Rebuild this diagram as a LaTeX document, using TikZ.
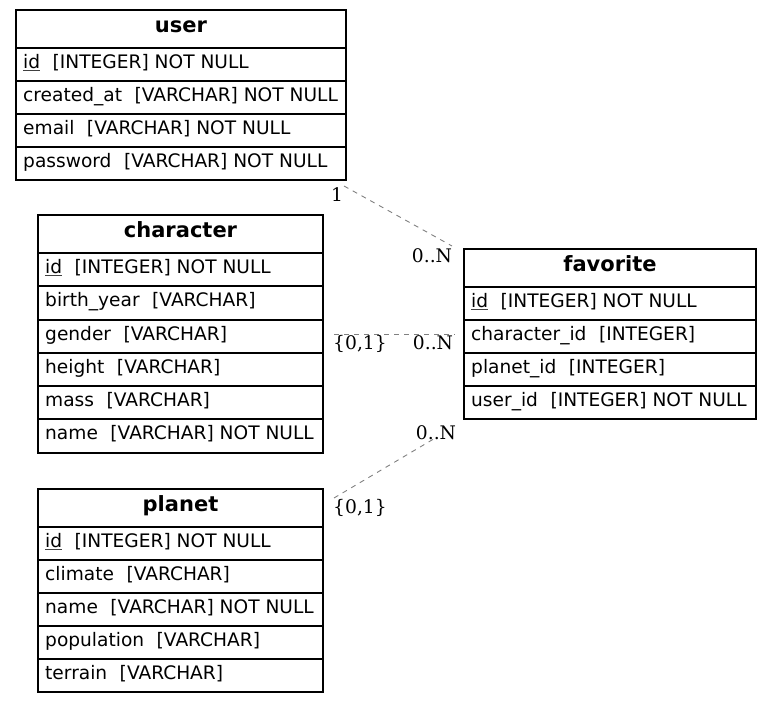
\documentclass[tikz,border=0pt]{standalone}
\usepackage{fontspec}
\setmainfont{DejaVu Sans}
\newfontfamily\lblfont{DejaVu Serif}
\usetikzlibrary{calc}
\begin{document}
\begin{tikzpicture}[x=1pt,y=-1pt,
  tbox/.style={draw=black, line width=1.1pt, anchor=north west, inner sep=0pt, outer sep=0pt},
  htext/.style={anchor=base, inner sep=0pt, font=\fontsize{21}{25}\selectfont\bfseries},
  rtext/.style={anchor=base west, inner sep=0pt, font=\fontsize{18.6}{22}\selectfont},
  rel/.style={draw=gray, line width=0.9pt, dash pattern=on 5pt off 5pt},
  card/.style={anchor=base, inner sep=0pt, font=\lblfont\fontsize{18.7}{22}\selectfont}]
\useasboundingbox (0,0) rectangle (772,703);
\newcommand{\gapsp}{\hspace{12.5pt}}
\newcommand{\pkey}[1]{\setbox0\hbox{#1}\rlap{\textcolor{black!75}{\rule[-2.6pt]{\wd0}{0.8pt}}}#1}
% #1 name, #2 x, #3 y, #4 width, #5 height, #6 text
\newcommand{\ehdr}[6]{%
  \node[tbox, minimum width=#4pt, minimum height=#5pt] (#1) at (#2,#3) {};
  \node[htext] (#1-t) at ($(#1.north)+(0,22.5)$) {#6};}
\newcommand{\erow}[6]{%
  \node[tbox, minimum width=#4pt, minimum height=#5pt] (#1) at (#2,#3) {};
  \node[rtext] (#1-t) at ($(#1.north west)+(7,20.3)$) {#6};}
% user
\ehdr{user-h}{16}{10}{330}{38}{user}
\erow{user-r1}{16}{48}{330}{33}{\pkey{id}\gapsp[INTEGER] NOT NULL}
\erow{user-r2}{16}{81}{330}{33}{created\_at\gapsp[VARCHAR] NOT NULL}
\erow{user-r3}{16}{114}{330}{33}{email\gapsp[VARCHAR] NOT NULL}
\erow{user-r4}{16}{147}{330}{33}{password\gapsp[VARCHAR] NOT NULL}
% character
\ehdr{char-h}{38}{215}{285}{38}{character}
\erow{char-r1}{38}{253}{285}{33}{\pkey{id}\gapsp[INTEGER] NOT NULL}
\erow{char-r2}{38}{286}{285}{34}{birth\_year\gapsp[VARCHAR]}
\erow{char-r3}{38}{320}{285}{33}{gender\gapsp[VARCHAR]}
\erow{char-r4}{38}{353}{285}{33}{height\gapsp[VARCHAR]}
\erow{char-r5}{38}{386}{285}{33}{mass\gapsp[VARCHAR]}
\erow{char-r6}{38}{419}{285}{34}{name\gapsp[VARCHAR] NOT NULL}
% favorite
\ehdr{fav-h}{464}{249}{292}{38}{favorite}
\erow{fav-r1}{464}{287}{292}{33}{\pkey{id}\gapsp[INTEGER] NOT NULL}
\erow{fav-r2}{464}{320}{292}{33}{character\_id\gapsp[INTEGER]}
\erow{fav-r3}{464}{353}{292}{33}{planet\_id\gapsp[INTEGER]}
\erow{fav-r4}{464}{386}{292}{33}{user\_id\gapsp[INTEGER] NOT NULL}
% planet
\ehdr{planet-h}{38}{489}{285}{38}{planet}
\erow{planet-r1}{38}{527}{285}{33}{\pkey{id}\gapsp[INTEGER] NOT NULL}
\erow{planet-r2}{38}{560}{285}{33}{climate\gapsp[VARCHAR]}
\erow{planet-r3}{38}{593}{285}{33}{name\gapsp[VARCHAR] NOT NULL}
\erow{planet-r4}{38}{626}{285}{33}{population\gapsp[VARCHAR]}
\erow{planet-r5}{38}{659}{285}{33}{terrain\gapsp[VARCHAR]}
% relations
\draw[rel] ($(user-r4.south east)+(-2,6)$) -- ($(fav-h.north west)+(-12,-3)$);
\draw[rel] ($(char-h.north east)+(11,119)$) -- ($(fav-h.north west)+(-9,85)$);
\draw[rel] ($(planet-h.north east)+(11,9)$) -- ($(fav-r4.south west)+(-27,18)$);
% cardinalities
\node[card] (c1a) at (337,202) {1};
\node[card] (c1b) at (432,263) {0..N};
\node[card] (c2a) at (360,350) {\{0,1\}};
\node[card] (c2b) at (433,350) {0..N};
\node[card] (c3b) at (436,440) {0..N};
\node[card] (c3a) at (360,514) {\{0,1\}};
\end{tikzpicture}
\end{document}
